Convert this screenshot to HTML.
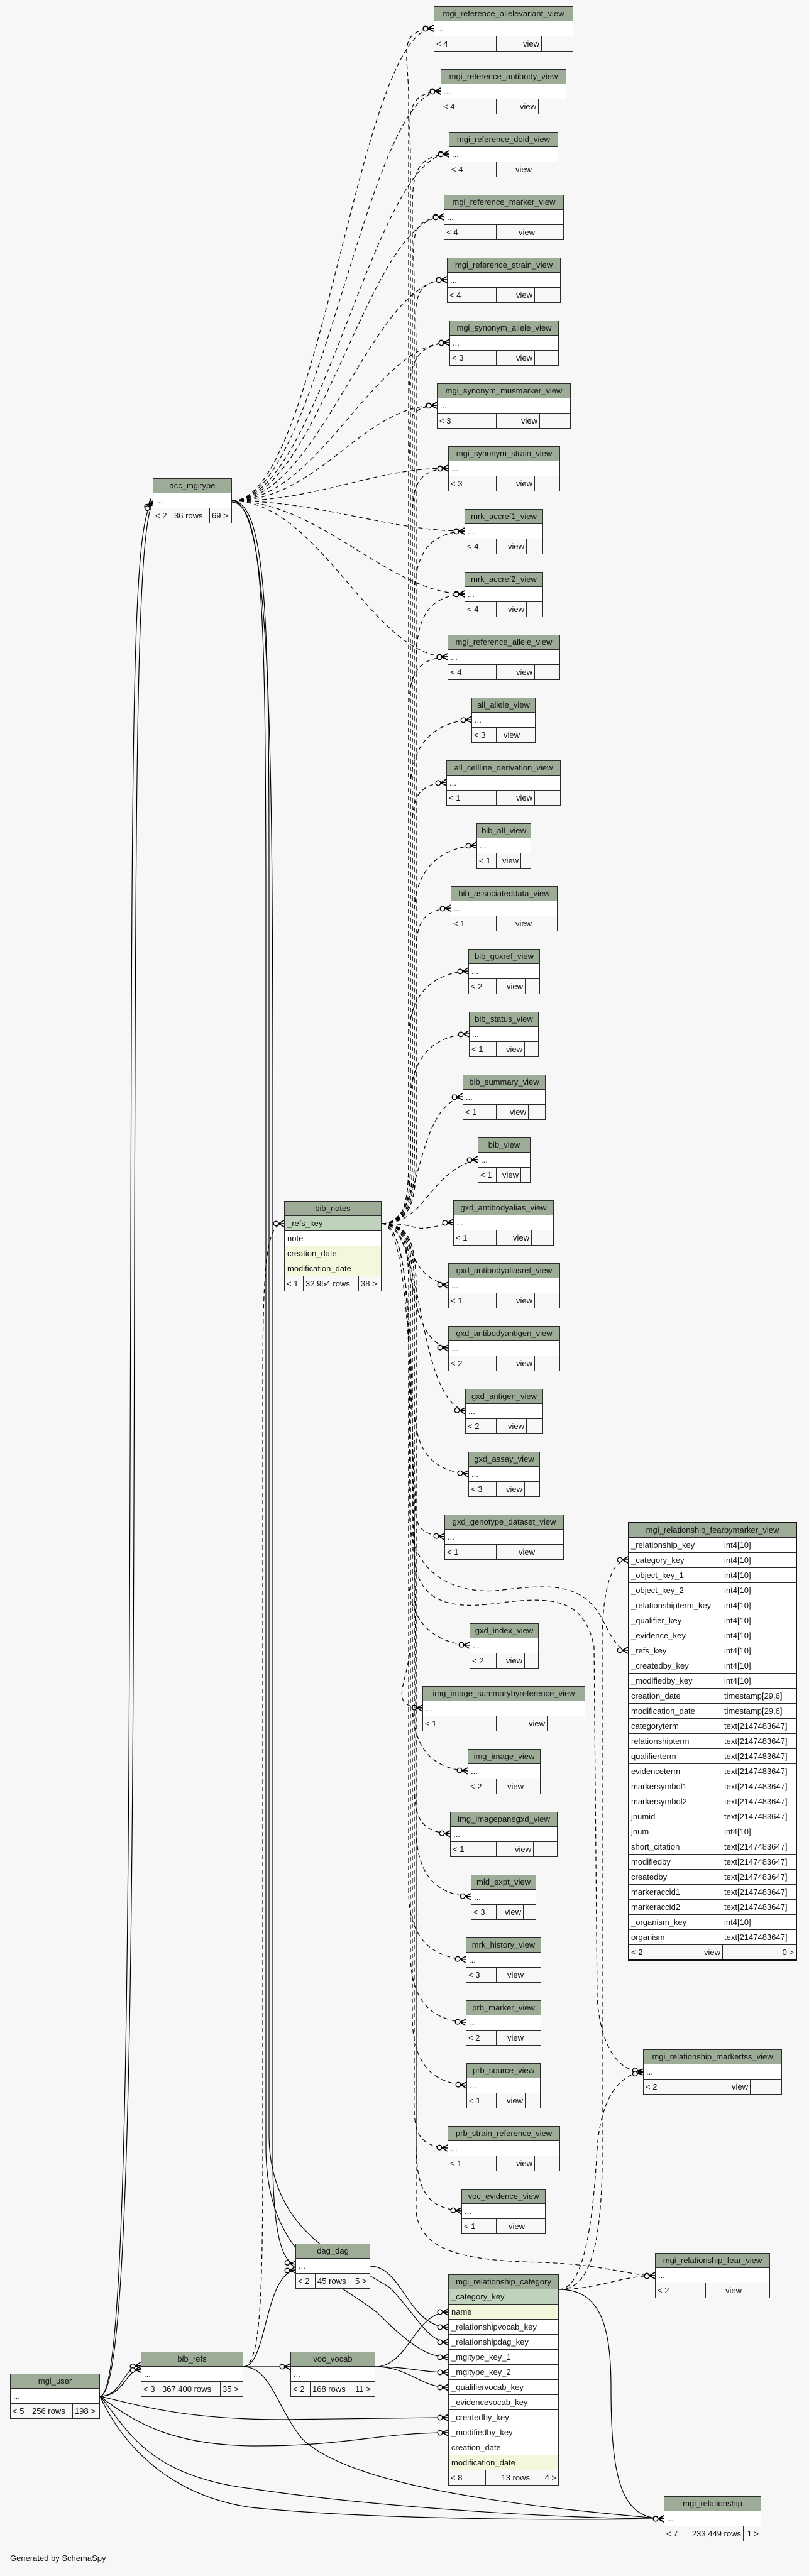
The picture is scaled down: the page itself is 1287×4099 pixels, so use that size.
<!DOCTYPE html>
<html><head><meta charset="utf-8">
<style>
html,body{margin:0;padding:0;background:#f7f7f7;}
body{width:1287px;height:4099px;position:relative;overflow:hidden;font-family:"Liberation Sans",Arial,sans-serif;}
svg{position:absolute;left:0;top:0;}
.t{position:absolute;border:1px solid #2a2a2a;background:#fff;box-sizing:border-box;font-size:13px;color:#111;z-index:2}
.t>div{height:24px;line-height:23px;border-top:1px solid #2a2a2a;box-sizing:border-box;white-space:nowrap;overflow:hidden;padding:0 4px}
.t>div.h{border-top:0;height:22px;line-height:22px;background:#9dac97;text-align:center;padding:0 2px}
.t>div.k{background:#bfd3bc}
.t>div.y{background:#f4f7dc}
.t>div.f{display:flex;padding:0;background:#f7f7f7}
.f span{display:block;border-left:1px solid #2a2a2a;padding:0 3px;box-sizing:border-box;height:100%;overflow:hidden}
.f span:first-child{border-left:0}
.f span.r{text-align:right}
.f span.x{flex:1}
.big{border:2px solid #111}
.big>div{display:flex;padding:0}
.big>div.h{display:block}
.big .a{width:148px;border-right:1px solid #2a2a2a;padding:0 3px;box-sizing:border-box}
.big .b{flex:1;padding:0 3px}
#gen{position:absolute;left:16px;top:4063px;font-size:13px;color:#111}
</style></head><body>
<svg id="s" width="1287" height="4099" xmlns="http://www.w3.org/2000/svg"></svg>

<div class="t" style="left:690px;top:10px;width:222px"><div class="h">mgi_reference_allelevariant_view</div><div>...</div><div class="f"><span style="width:98px">&lt; 4</span><span class="r" style="width:72px">view</span><span class="x"></span></div></div>
<div class="t" style="left:701px;top:110px;width:200px"><div class="h">mgi_reference_antibody_view</div><div>...</div><div class="f"><span style="width:87px">&lt; 4</span><span class="r" style="width:67px">view</span><span class="x"></span></div></div>
<div class="t" style="left:714px;top:210px;width:174px"><div class="h">mgi_reference_doid_view</div><div>...</div><div class="f"><span style="width:74px">&lt; 4</span><span class="r" style="width:60px">view</span><span class="x"></span></div></div>
<div class="t" style="left:706px;top:310px;width:191px"><div class="h">mgi_reference_marker_view</div><div>...</div><div class="f"><span style="width:82px">&lt; 4</span><span class="r" style="width:65px">view</span><span class="x"></span></div></div>
<div class="t" style="left:711px;top:410px;width:181px"><div class="h">mgi_reference_strain_view</div><div>...</div><div class="f"><span style="width:77px">&lt; 4</span><span class="r" style="width:61px">view</span><span class="x"></span></div></div>
<div class="t" style="left:715px;top:510px;width:174px"><div class="h">mgi_synonym_allele_view</div><div>...</div><div class="f"><span style="width:73px">&lt; 3</span><span class="r" style="width:61px">view</span><span class="x"></span></div></div>
<div class="t" style="left:695px;top:610px;width:213px"><div class="h">mgi_synonym_musmarker_view</div><div>...</div><div class="f"><span style="width:93px">&lt; 3</span><span class="r" style="width:69px">view</span><span class="x"></span></div></div>
<div class="t" style="left:713px;top:710px;width:178px"><div class="h">mgi_synonym_strain_view</div><div>...</div><div class="f"><span style="width:75px">&lt; 3</span><span class="r" style="width:61px">view</span><span class="x"></span></div></div>
<div class="t" style="left:739px;top:810px;width:125px"><div class="h">mrk_accref1_view</div><div>...</div><div class="f"><span style="width:49px">&lt; 4</span><span class="r" style="width:48px">view</span><span class="x"></span></div></div>
<div class="t" style="left:739px;top:910px;width:125px"><div class="h">mrk_accref2_view</div><div>...</div><div class="f"><span style="width:49px">&lt; 4</span><span class="r" style="width:48px">view</span><span class="x"></span></div></div>
<div class="t" style="left:712px;top:1010px;width:179px"><div class="h">mgi_reference_allele_view</div><div>...</div><div class="f"><span style="width:76px">&lt; 4</span><span class="r" style="width:61px">view</span><span class="x"></span></div></div>
<div class="t" style="left:750px;top:1110px;width:102px"><div class="h">all_allele_view</div><div>...</div><div class="f"><span style="width:38px">&lt; 3</span><span class="r" style="width:41px">view</span><span class="x"></span></div></div>
<div class="t" style="left:710px;top:1210px;width:182px"><div class="h">all_cellline_derivation_view</div><div>...</div><div class="f"><span style="width:78px">&lt; 1</span><span class="r" style="width:61px">view</span><span class="x"></span></div></div>
<div class="t" style="left:758px;top:1310px;width:87px"><div class="h">bib_all_view</div><div>...</div><div class="f"><span style="width:30px">&lt; 1</span><span class="r" style="width:39px">view</span><span class="x"></span></div></div>
<div class="t" style="left:717px;top:1410px;width:170px"><div class="h">bib_associateddata_view</div><div>...</div><div class="f"><span style="width:71px">&lt; 1</span><span class="r" style="width:60px">view</span><span class="x"></span></div></div>
<div class="t" style="left:745px;top:1510px;width:114px"><div class="h">bib_goxref_view</div><div>...</div><div class="f"><span style="width:43px">&lt; 2</span><span class="r" style="width:46px">view</span><span class="x"></span></div></div>
<div class="t" style="left:746px;top:1610px;width:111px"><div class="h">bib_status_view</div><div>...</div><div class="f"><span style="width:42px">&lt; 1</span><span class="r" style="width:45px">view</span><span class="x"></span></div></div>
<div class="t" style="left:736px;top:1710px;width:132px"><div class="h">bib_summary_view</div><div>...</div><div class="f"><span style="width:52px">&lt; 1</span><span class="r" style="width:51px">view</span><span class="x"></span></div></div>
<div class="t" style="left:760px;top:1810px;width:84px"><div class="h">bib_view</div><div>...</div><div class="f"><span style="width:28px">&lt; 1</span><span class="r" style="width:39px">view</span><span class="x"></span></div></div>
<div class="t" style="left:721px;top:1910px;width:160px"><div class="h">gxd_antibodyalias_view</div><div>...</div><div class="f"><span style="width:67px">&lt; 1</span><span class="r" style="width:56px">view</span><span class="x"></span></div></div>
<div class="t" style="left:713px;top:2010px;width:178px"><div class="h">gxd_antibodyaliasref_view</div><div>...</div><div class="f"><span style="width:75px">&lt; 1</span><span class="r" style="width:61px">view</span><span class="x"></span></div></div>
<div class="t" style="left:713px;top:2110px;width:178px"><div class="h">gxd_antibodyantigen_view</div><div>...</div><div class="f"><span style="width:75px">&lt; 2</span><span class="r" style="width:61px">view</span><span class="x"></span></div></div>
<div class="t" style="left:740px;top:2210px;width:124px"><div class="h">gxd_antigen_view</div><div>...</div><div class="f"><span style="width:48px">&lt; 2</span><span class="r" style="width:48px">view</span><span class="x"></span></div></div>
<div class="t" style="left:745px;top:2310px;width:114px"><div class="h">gxd_assay_view</div><div>...</div><div class="f"><span style="width:43px">&lt; 3</span><span class="r" style="width:45px">view</span><span class="x"></span></div></div>
<div class="t" style="left:707px;top:2410px;width:190px"><div class="h">gxd_genotype_dataset_view</div><div>...</div><div class="f"><span style="width:81px">&lt; 1</span><span class="r" style="width:65px">view</span><span class="x"></span></div></div>
<div class="t" style="left:747px;top:2583px;width:110px"><div class="h">gxd_index_view</div><div>...</div><div class="f"><span style="width:41px">&lt; 2</span><span class="r" style="width:45px">view</span><span class="x"></span></div></div>
<div class="t" style="left:672px;top:2683px;width:259px"><div class="h">img_image_summarybyreference_view</div><div>...</div><div class="f"><span style="width:116px">&lt; 1</span><span class="r" style="width:81px">view</span><span class="x"></span></div></div>
<div class="t" style="left:744px;top:2783px;width:116px"><div class="h">img_image_view</div><div>...</div><div class="f"><span style="width:44px">&lt; 2</span><span class="r" style="width:47px">view</span><span class="x"></span></div></div>
<div class="t" style="left:716px;top:2883px;width:171px"><div class="h">img_imagepanegxd_view</div><div>...</div><div class="f"><span style="width:72px">&lt; 1</span><span class="r" style="width:59px">view</span><span class="x"></span></div></div>
<div class="t" style="left:749px;top:2983px;width:104px"><div class="h">mld_expt_view</div><div>...</div><div class="f"><span style="width:39px">&lt; 3</span><span class="r" style="width:43px">view</span><span class="x"></span></div></div>
<div class="t" style="left:741px;top:3083px;width:120px"><div class="h">mrk_history_view</div><div>...</div><div class="f"><span style="width:47px">&lt; 3</span><span class="r" style="width:47px">view</span><span class="x"></span></div></div>
<div class="t" style="left:741px;top:3183px;width:120px"><div class="h">prb_marker_view</div><div>...</div><div class="f"><span style="width:47px">&lt; 2</span><span class="r" style="width:47px">view</span><span class="x"></span></div></div>
<div class="t" style="left:742px;top:3283px;width:118px"><div class="h">prb_source_view</div><div>...</div><div class="f"><span style="width:46px">&lt; 1</span><span class="r" style="width:46px">view</span><span class="x"></span></div></div>
<div class="t" style="left:712px;top:3383px;width:179px"><div class="h">prb_strain_reference_view</div><div>...</div><div class="f"><span style="width:76px">&lt; 1</span><span class="r" style="width:61px">view</span><span class="x"></span></div></div>
<div class="t" style="left:734px;top:3483px;width:134px"><div class="h">voc_evidence_view</div><div>...</div><div class="f"><span style="width:54px">&lt; 1</span><span class="r" style="width:49px">view</span><span class="x"></span></div></div>

<div class="t" style="left:1023px;top:3261px;width:221px"><div class="h">mgi_relationship_markertss_view</div><div>...</div><div class="f"><span style="width:97px">&lt; 2</span><span class="r" style="width:72px">view</span><span class="x"></span></div></div>
<div class="t" style="left:1042px;top:3585px;width:183px"><div class="h">mgi_relationship_fear_view</div><div>...</div><div class="f"><span style="width:79px">&lt; 2</span><span class="r" style="width:61px">view</span><span class="x"></span></div></div>
<div class="t" style="left:1056px;top:3972px;width:155px"><div class="h">mgi_relationship</div><div>...</div><div class="f"><span style="width:29px">&lt; 7</span><span class="r" style="width:96px">233,449 rows</span><span class="x r">1 &gt;</span></div></div>

<div class="t" style="left:243px;top:761px;width:126px"><div class="h">acc_mgitype</div><div>...</div><div class="f"><span style="width:29px">&lt; 2</span><span style="width:60px">36 rows</span><span class="x">69 &gt;</span></div></div>
<div class="t" style="left:452px;top:1911px;width:155px"><div class="h">bib_notes</div><div class="k">_refs_key</div><div>note</div><div class="y">creation_date</div><div class="y">modification_date</div><div class="f"><span style="width:29px">&lt; 1</span><span style="width:88px">32,954 rows</span><span class="x">38 &gt;</span></div></div>
<div class="t" style="left:16px;top:3777px;width:143px"><div class="h">mgi_user</div><div>...</div><div class="f"><span style="width:30px">&lt; 5</span><span style="width:68px">256 rows</span><span class="x">198 &gt;</span></div></div>
<div class="t" style="left:224px;top:3742px;width:163px"><div class="h">bib_refs</div><div>...</div><div class="f"><span style="width:29px">&lt; 3</span><span style="width:96px">367,400 rows</span><span class="x">35 &gt;</span></div></div>
<div class="t" style="left:470px;top:3570px;width:119px"><div class="h">dag_dag</div><div>...</div><div class="f"><span style="width:30px">&lt; 2</span><span style="width:60px">45 rows</span><span class="x">5 &gt;</span></div></div>
<div class="t" style="left:462px;top:3742px;width:135px"><div class="h">voc_vocab</div><div>...</div><div class="f"><span style="width:30px">&lt; 2</span><span style="width:68px">168 rows</span><span class="x">11 &gt;</span></div></div>
<div class="t" style="left:713px;top:3619px;width:176px"><div class="h">mgi_relationship_category</div><div class="k">_category_key</div><div class="y">name</div><div>_relationshipvocab_key</div><div>_relationshipdag_key</div><div>_mgitype_key_1</div><div>_mgitype_key_2</div><div>_qualifiervocab_key</div><div>_evidencevocab_key</div><div>_createdby_key</div><div>_modifiedby_key</div><div>creation_date</div><div class="y">modification_date</div><div class="f"><span style="width:58px">&lt; 8</span><span class="r" style="width:74px">13 rows</span><span class="x r">4 &gt;</span></div></div>

<div class="t big" style="left:999px;top:2422px;width:269px"><div class="h">mgi_relationship_fearbymarker_view</div>
<div><span class="a">_relationship_key</span><span class="b">int4[10]</span></div>
<div><span class="a">_category_key</span><span class="b">int4[10]</span></div>
<div><span class="a">_object_key_1</span><span class="b">int4[10]</span></div>
<div><span class="a">_object_key_2</span><span class="b">int4[10]</span></div>
<div><span class="a">_relationshipterm_key</span><span class="b">int4[10]</span></div>
<div><span class="a">_qualifier_key</span><span class="b">int4[10]</span></div>
<div><span class="a">_evidence_key</span><span class="b">int4[10]</span></div>
<div><span class="a">_refs_key</span><span class="b">int4[10]</span></div>
<div><span class="a">_createdby_key</span><span class="b">int4[10]</span></div>
<div><span class="a">_modifiedby_key</span><span class="b">int4[10]</span></div>
<div><span class="a">creation_date</span><span class="b">timestamp[29,6]</span></div>
<div><span class="a">modification_date</span><span class="b">timestamp[29,6]</span></div>
<div><span class="a">categoryterm</span><span class="b">text[2147483647]</span></div>
<div><span class="a">relationshipterm</span><span class="b">text[2147483647]</span></div>
<div><span class="a">qualifierterm</span><span class="b">text[2147483647]</span></div>
<div><span class="a">evidenceterm</span><span class="b">text[2147483647]</span></div>
<div><span class="a">markersymbol1</span><span class="b">text[2147483647]</span></div>
<div><span class="a">markersymbol2</span><span class="b">text[2147483647]</span></div>
<div><span class="a">jnumid</span><span class="b">text[2147483647]</span></div>
<div><span class="a">jnum</span><span class="b">int4[10]</span></div>
<div><span class="a">short_citation</span><span class="b">text[2147483647]</span></div>
<div><span class="a">modifiedby</span><span class="b">text[2147483647]</span></div>
<div><span class="a">createdby</span><span class="b">text[2147483647]</span></div>
<div><span class="a">markeraccid1</span><span class="b">text[2147483647]</span></div>
<div><span class="a">markeraccid2</span><span class="b">text[2147483647]</span></div>
<div><span class="a">_organism_key</span><span class="b">int4[10]</span></div>
<div><span class="a">organism</span><span class="b">text[2147483647]</span></div>
<div class="f" style="background:#f7f7f7"><span style="width:69px;border:0">&lt; 2</span><span class="r" style="width:79px;border-left:1px solid #2a2a2a">view</span><span class="x r" style="border-left:1px solid #2a2a2a">0 &gt;</span></div>
</div>

<div id="gen">Generated by SchemaSpy</div>

<script>
(function(){
var S=document.getElementById('s');var NS='http://www.w3.org/2000/svg';
function el(n,a){var e=document.createElementNS(NS,n);for(var k in a)e.setAttribute(k,a[k]);S.appendChild(e);return e;}
function mark(px,py,cx,cy,one){
  var dx=px-cx,dy=py-cy,l=Math.sqrt(dx*dx+dy*dy)||1;dx/=l;dy/=l;var nx=-dy,ny=dx;
  var bx=px-9*dx,by=py-9*dy;
  if(one){
    el('line',{x1:px-5*dx+5*nx,y1:py-5*dy+5*ny,x2:px-5*dx-5*nx,y2:py-5*dy-5*ny,stroke:'#000','stroke-width':2});
  }else{
    el('path',{d:'M'+bx+','+by+'L'+(px+5*nx)+','+(py+5*ny)+'M'+bx+','+by+'L'+px+','+py+'M'+bx+','+by+'L'+(px-5*nx)+','+(py-5*ny),stroke:'#000','stroke-width':1.6,fill:'none'});
  }
  el('circle',{cx:px-13*dx,cy:py-13*dy,r:3.8,fill:'#f7f7f7',stroke:'#000','stroke-width':1.4});
}
function edge(d,px,py,cx,cy,dash,one){
  var a={d:d,fill:'none',stroke:'#000','stroke-width':1.2};
  if(dash)a['stroke-dasharray']='7,5';
  el('path',a);mark(px,py,cx,cy,one);
}
var V=[[690,10],[701,110],[714,210],[706,310],[711,410],[715,510],[695,610],[713,710],[739,810],[739,910],[712,1010],[750,1110],[710,1210],[758,1310],[717,1410],[745,1510],[746,1610],[736,1710],[760,1810],[721,1910],[713,2010],[713,2110],[740,2210],[745,2310],[707,2410],[747,2583],[672,2683],[744,2783],[716,2883],[749,2983],[741,3083],[741,3183],[742,3283],[712,3383],[734,3483]];
for(var i=0;i<=10;i++){var L=V[i][0],y=V[i][1]+35;var sx=369,sy=797;
  var c1x=sx+140,c2x=L-120;
  edge('M'+sx+','+sy+' C'+c1x+','+sy+' '+c2x+','+y+' '+L+','+y,L,y,c2x,y,true);}
for(var i=0;i<V.length;i++){var L=V[i][0],y=V[i][1]+35;var sx=607,sy=1947;
  var bx=650+(i%5)*3;var s=(y<sy)?1:-1;
  var d='M'+sx+','+sy+' C'+(bx+5)+','+sy+' '+bx+','+(sy-s*60)+' '+bx+','+(sy-s*160);
  var my=y+s*110;
  if(Math.abs(y-sy)>300){d+=' L'+bx+','+my+' C'+bx+','+(y+s*40)+' '+(L-60)+','+(y+s*4)+' '+L+','+y;}
  else{d='M'+sx+','+sy+' C'+(bx+20)+','+sy+' '+(L-80)+','+(y+s*20)+' '+L+','+y;}
  edge(d,L,y,L-60,y+s*4,true);}
edge('M607,1947 C660,1947 650,2200 652,2420 C655,2500 720,2540 800,2530 C880,2520 930,2520 960,2580 C975,2610 985,2626 999,2626',999,2626,985,2626,true);
edge('M607,1947 C662,1947 655,2250 658,2470 C662,2560 730,2560 800,2550 C880,2540 930,2545 945,2620 L950,3180 C955,3250 980,3297 1023,3297',1023,3297,985,3290,true);
edge('M607,1947 C664,1947 660,2400 662,3000 L662,3520 C670,3590 760,3597 860,3600 C960,3603 1000,3621 1042,3621',1042,3621,1000,3621,true);
edge('M889,3643 C930,3643 955,3600 958,3450 L958,2600 C960,2520 975,2482 999,2482',999,2482,975,2482,true);
edge('M889,3643 C935,3643 945,3500 950,3420 C955,3340 985,3300 1023,3297',1023,3297,985,3305,true);
edge('M889,3643 C950,3643 990,3621 1042,3621',1042,3621,990,3625,true);
edge('M159,3813 C205,3813 205,3000 208,2000 C210,1100 212,830 243,797',243,797,225,815,false);
edge('M159,3813 C210,3813 212,3000 214,2000 C216,1200 218,850 243,799',243,799,226,818,false);
edge('M159,3813 C195,3813 195,3766 224,3764',224,3764,205,3766,false);
edge('M159,3813 C198,3813 198,3772 224,3770',224,3770,205,3772,false);
edge('M159,3813 C230,3830 300,3850 450,3850 C600,3848 650,3847 713,3847',713,3847,680,3847,false);
edge('M159,3813 C220,3860 280,3890 400,3892 C550,3893 600,3871 713,3871',713,3871,680,3871,false);
edge('M159,3813 C200,3860 230,3940 400,3960 C600,3990 900,4008 1056,4008',1056,4008,1000,4008,false);
edge('M159,3813 C190,3880 260,3970 400,3990 C600,4010 900,4010 1056,4008',1056,4008,1000,4008,false);
edge('M387,3766 C430,3766 440,3830 480,3880 C560,3960 850,3990 1056,4008',1056,4008,1000,4005,false);
edge('M387,3766 C420,3766 418,3600 418,3300 L418,2200 C418,2000 425,1947 452,1947',452,1947,435,1947,true);
edge('M387,3766 L462,3766',462,3766,440,3766,false);
edge('M369,797 C425,797 428,1000 428,1400 L428,3400 C430,3560 560,3600 620,3640 C660,3680 680,3727 713,3727',713,3727,690,3727,false);
edge('M369,799 C420,799 422,1000 423,1400 L423,3420 C425,3600 540,3630 600,3680 C650,3730 680,3751 713,3751',713,3751,690,3751,false);
edge('M369,797 C432,797 434,1200 434,1800 L434,3450 C436,3560 450,3600 470,3603',470,3603,455,3600,false);
edge('M387,3766 C425,3766 420,3620 470,3612',470,3612,445,3614,false);
edge('M589,3606 C640,3606 650,3703 713,3703',713,3703,680,3703,false);
edge('M597,3766 C650,3766 660,3679 713,3679',713,3679,685,3679,false);
edge('M597,3766 C650,3766 670,3775 713,3775',713,3775,690,3775,false);
edge('M597,3766 C650,3766 670,3799 713,3799',713,3799,690,3799,false);
edge('M889,3643 C955,3643 972,3700 972,3800 C972,3950 990,4008 1056,4008',1056,4008,1010,4008,false);
})();
</script>
</body></html>
